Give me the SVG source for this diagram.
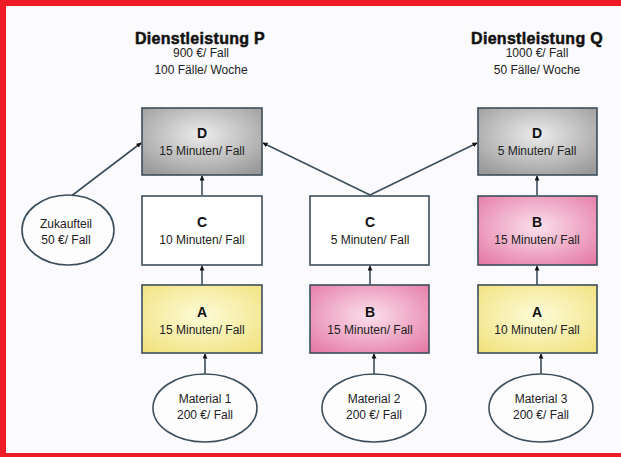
<svg xmlns="http://www.w3.org/2000/svg" width="621" height="457" viewBox="0 0 621 457">
<style>
.title{font-family:"Liberation Sans",Arial,sans-serif;font-size:16px;font-weight:bold;fill:#111;stroke:#111;stroke-width:0.5px;text-anchor:middle;letter-spacing:0.3px}
.sub{font-family:"Liberation Sans",Arial,sans-serif;font-size:12px;fill:#222;text-anchor:middle}
.let{font-family:"Liberation Sans",Arial,sans-serif;font-size:14px;font-weight:bold;fill:#111;text-anchor:middle}
.box{stroke:#3c4e5c;stroke-width:1.6}
.ell{fill:#fdfdfe;stroke:#3c4e5c;stroke-width:1.6}
.con{stroke:#3c4e5c;stroke-width:1.6;fill:none;marker-end:url(#ah)}
</style>
<defs>
<radialGradient id="gGray" cx="50%" cy="40%" r="70%"><stop offset="0" stop-color="#ececec"/><stop offset="1" stop-color="#999"/></radialGradient>
<radialGradient id="gYel" cx="50%" cy="45%" r="70%"><stop offset="0" stop-color="#fdfbd8"/><stop offset="1" stop-color="#f1e27e"/></radialGradient>
<radialGradient id="gPink" cx="50%" cy="45%" r="70%"><stop offset="0" stop-color="#fbe0ec"/><stop offset="1" stop-color="#e57aa6"/></radialGradient>
<marker id="ah" viewBox="0 0 10 10" refX="9" refY="5" markerWidth="5" markerHeight="5" orient="auto" markerUnits="userSpaceOnUse"><path d="M0,0 L10,5 L0,10 z" fill="#111"/></marker>
</defs>
<rect x="0" y="0" width="621" height="457" fill="#ee1c25"/>
<rect x="6" y="6" width="615" height="447" fill="#fbfbfd"/>

<g id="title-p">
<text class="title" x="200" y="44">Dienstleistung P</text>
<text class="sub" x="201" y="57">900 €/ Fall</text>
<text class="sub" x="201" y="74">100 Fälle/ Woche</text>
</g>
<g id="title-q">
<text class="title" x="537" y="44">Dienstleistung Q</text>
<text class="sub" x="537" y="57">1000 €/ Fall</text>
<text class="sub" x="537" y="74">50 Fälle/ Woche</text>
</g>

<g id="connectors">
<line class="con" x1="70" y1="197" x2="141" y2="143"/>
<line class="con" x1="370" y1="195" x2="263" y2="143"/>
<line class="con" x1="370" y1="195" x2="477" y2="143"/>
<line class="con" x1="202" y1="195" x2="202" y2="176"/>
<line class="con" x1="202" y1="285" x2="202" y2="266"/>
<line class="con" x1="205" y1="374" x2="205" y2="354"/>
<line class="con" x1="370" y1="285" x2="370" y2="266"/>
<line class="con" x1="374" y1="374" x2="374" y2="354"/>
<line class="con" x1="537" y1="195" x2="537" y2="176"/>
<line class="con" x1="537" y1="285" x2="537" y2="266"/>
<line class="con" x1="541" y1="374" x2="541" y2="354"/>
</g>

<g id="p-d">
<rect class="box" x="142" y="108" width="120" height="67" fill="url(#gGray)"/>
<text class="let" x="202" y="138">D</text>
<text class="sub" x="202" y="155">15 Minuten/ Fall</text>
</g>
<g id="p-c">
<rect class="box" x="142" y="196" width="120" height="69" fill="#fff"/>
<text class="let" x="202" y="227">C</text>
<text class="sub" x="202" y="244">10 Minuten/ Fall</text>
</g>
<g id="p-a">
<rect class="box" x="142" y="285" width="120" height="68" fill="url(#gYel)"/>
<text class="let" x="202" y="317">A</text>
<text class="sub" x="202" y="334">15 Minuten/ Fall</text>
</g>

<g id="m-c">
<rect class="box" x="310" y="196" width="119" height="69" fill="#fff"/>
<text class="let" x="370" y="227">C</text>
<text class="sub" x="370" y="244">5 Minuten/ Fall</text>
</g>
<g id="m-b">
<rect class="box" x="310" y="285" width="119" height="68" fill="url(#gPink)"/>
<text class="let" x="370" y="317">B</text>
<text class="sub" x="370" y="334">15 Minuten/ Fall</text>
</g>

<g id="q-d">
<rect class="box" x="478" y="108" width="119" height="67" fill="url(#gGray)"/>
<text class="let" x="537" y="138">D</text>
<text class="sub" x="537" y="155">5 Minuten/ Fall</text>
</g>
<g id="q-b">
<rect class="box" x="478" y="196" width="119" height="69" fill="url(#gPink)"/>
<text class="let" x="537" y="227">B</text>
<text class="sub" x="537" y="244">15 Minuten/ Fall</text>
</g>
<g id="q-a">
<rect class="box" x="478" y="285" width="119" height="68" fill="url(#gYel)"/>
<text class="let" x="537" y="317">A</text>
<text class="sub" x="537" y="334">10 Minuten/ Fall</text>
</g>

<g id="zukaufteil">
<ellipse class="ell" cx="68" cy="230" rx="46" ry="35"/>
<text class="sub" x="66" y="228">Zukaufteil</text>
<text class="sub" x="66" y="244">50 €/ Fall</text>
</g>
<g id="material1">
<ellipse class="ell" cx="205" cy="408" rx="52" ry="34"/>
<text class="sub" x="205" y="403">Material 1</text>
<text class="sub" x="205" y="419">200 €/ Fall</text>
</g>
<g id="material2">
<ellipse class="ell" cx="374" cy="408" rx="52" ry="34"/>
<text class="sub" x="374" y="403">Material 2</text>
<text class="sub" x="374" y="419">200 €/ Fall</text>
</g>
<g id="material3">
<ellipse class="ell" cx="541" cy="408" rx="52" ry="34"/>
<text class="sub" x="541" y="403">Material 3</text>
<text class="sub" x="541" y="419">200 €/ Fall</text>
</g>
</svg>
